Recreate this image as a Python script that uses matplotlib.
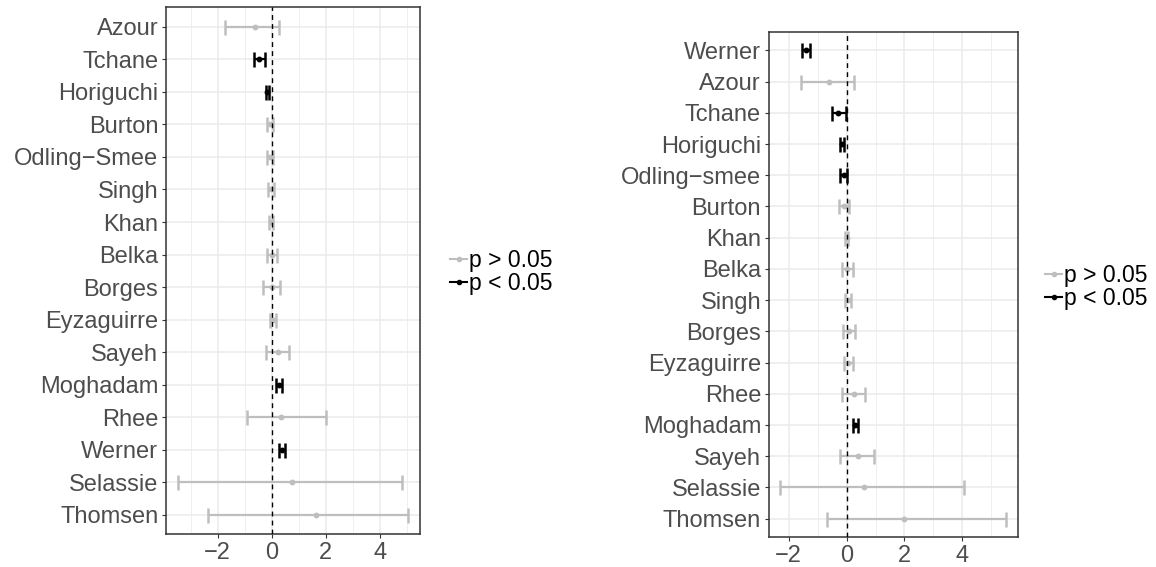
import matplotlib
matplotlib.use("Agg")
import matplotlib.pyplot as plt
from matplotlib.lines import Line2D
from matplotlib.ticker import MultipleLocator
import numpy as np

plt.rcParams["font.family"] = ["Liberation Sans", "DejaVu Sans"]

# left panel, top to bottom
names_left = ["Azour", "Tchane", "Horiguchi", "Burton", "Odling\u2212Smee", "Singh",
              "Khan", "Belka", "Borges", "Eyzaguirre", "Sayeh", "Moghadam",
              "Rhee", "Werner", "Selassie", "Thomsen"]
est_left = [-0.62, -0.48, -0.16, -0.07, -0.05, -0.03, -0.02, 0.0, 0.0, 0.05,
            0.23, 0.28, 0.36, 0.38, 0.74, 1.62]
lo_left = [-1.72, -0.66, -0.22, -0.19, -0.18, -0.14, -0.10, -0.18, -0.34, -0.07,
           -0.22, 0.17, -0.93, 0.27, -3.48, -2.35]
hi_left = [0.27, -0.26, -0.11, 0.05, 0.06, 0.08, 0.05, 0.18, 0.29, 0.17,
           0.64, 0.39, 2.01, 0.49, 4.83, 5.05]
sig_left = [0, 1, 1, 0, 0, 0, 0, 0, 0, 0, 0, 1, 0, 1, 0, 0]

# right panel, top to bottom
names_right = ["Werner", "Azour", "Tchane", "Horiguchi", "Odling\u2212smee", "Burton",
               "Khan", "Belka", "Singh", "Borges", "Eyzaguirre", "Rhee",
               "Moghadam", "Sayeh", "Selassie", "Thomsen"]
est_right = [-1.41, -0.60, -0.29, -0.16, -0.10, -0.08, 0.0, 0.03, 0.04, 0.08,
             0.05, 0.25, 0.30, 0.38, 0.59, 1.99]
lo_right = [-1.55, -1.56, -0.50, -0.22, -0.22, -0.27, -0.06, -0.16, -0.06, -0.12,
            -0.10, -0.17, 0.21, -0.24, -2.30, -0.69]
hi_right = [-1.26, 0.25, -0.02, -0.10, 0.01, 0.07, 0.06, 0.23, 0.14, 0.29,
            0.21, 0.63, 0.38, 0.94, 4.07, 5.52]
sig_right = [1, 0, 1, 1, 1, 0, 0, 0, 0, 0, 0, 0, 1, 0, 0, 0]

legend_labels = ["p > 0.05", "p < 0.05"]
GREY = "#BEBEBE"
COLORS = {0: GREY, 1: "black"}


def forest(ax, names, est, lo, hi, sig):
    n = len(names)
    y = np.arange(n, 0, -1)
    est = np.asarray(est)
    lo = np.asarray(lo)
    hi = np.asarray(hi)
    for i in range(n):
        ax.errorbar(est[i], y[i], xerr=[[est[i] - lo[i]], [hi[i] - est[i]]],
                    fmt="o", ms=3.2, color=COLORS[sig[i]], ecolor=COLORS[sig[i]],
                    elinewidth=1.6, capsize=5.4, capthick=1.8, zorder=3)
    ax.axvline(0, color="black", lw=1.0, ls=(0, (3.5, 3)), zorder=4)
    span = hi.max() - lo.min()
    ax.set_xlim(lo.min() - 0.05 * span, hi.max() + 0.05 * span)
    ax.set_ylim(0.4, n + 0.6)
    ax.set_yticks(y)
    ax.set_yticklabels(names)
    ax.xaxis.set_major_locator(MultipleLocator(2))
    ax.xaxis.set_minor_locator(MultipleLocator(1))
    ax.xaxis.set_major_formatter(plt.FuncFormatter(lambda v, p: f"{v:g}".replace("-", "\u2212")))
    ax.grid(True, which="major", color="#EBEBEB", lw=1.1, zorder=0)
    ax.grid(True, which="minor", axis="x", color="#EBEBEB", lw=0.55, zorder=0)
    ax.set_axisbelow(True)
    ax.tick_params(axis="both", which="major", length=3, width=0.8, color="#333333",
                   labelcolor="#4D4D4D", labelsize=17, pad=2.5)
    ax.tick_params(axis="x", which="minor", length=0)
    for s in ax.spines.values():
        s.set_color("#333333")
        s.set_linewidth(1.1)


W, H = 1156, 567
fig = plt.figure(figsize=(W / 100, H / 100), dpi=100)

ax1 = fig.add_axes([166 / W, 1 - 534.3 / H, 254 / W, 527 / H])
forest(ax1, names_left, est_left, lo_left, hi_left, sig_left)

ax2 = fig.add_axes([768.7 / W, 1 - 537.3 / H, 249 / W, 505.6 / H])
forest(ax2, names_right, est_right, lo_right, hi_right, sig_right)

handles = [Line2D([], [], color=COLORS[k], marker="o", ms=3, lw=1.5) for k in (0, 1)]
fig.legend(handles, legend_labels, loc="center left", bbox_to_anchor=(450 / W, 1 - 272 / H),
           frameon=False, fontsize=16.5, handlelength=0.75, handletextpad=0.1,
           labelspacing=0.0, borderpad=0, borderaxespad=0)
fig.legend(handles, legend_labels, loc="center left", bbox_to_anchor=(1045 / W, 1 - 287 / H),
           frameon=False, fontsize=16.5, handlelength=0.75, handletextpad=0.1,
           labelspacing=0.0, borderpad=0, borderaxespad=0)

fig.savefig("out.png", dpi=100)
